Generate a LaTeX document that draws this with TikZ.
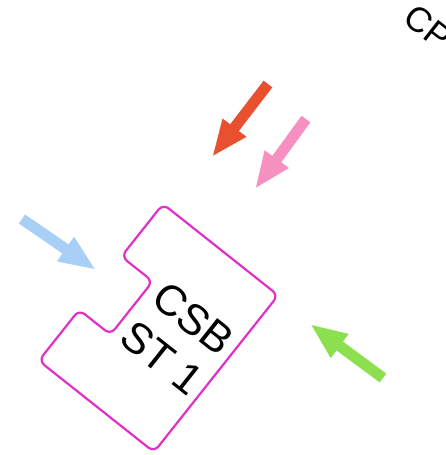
\documentclass[tikz,border=0pt]{standalone}
\usepackage{fontspec}
\setmainfont{Liberation Sans}
\usetikzlibrary{arrows.meta}
\definecolor{arrred}{HTML}{E9502F}
\definecolor{arrpink}{HTML}{F590C0}
\definecolor{arrblue}{HTML}{A8D0F6}
\definecolor{arrgreen}{HTML}{8CE050}
\definecolor{boxmag}{HTML}{E030C8}
\tikzset{
  flow/.style={line width=11pt, -{Triangle[length=37pt 0, width=27pt 0]}},
  csbbox/.style={draw=boxmag, line width=2.2pt, rounded corners=7pt},
}
\begin{document}
\begin{tikzpicture}[x=1pt,y=1pt]
\useasboundingbox (0,0) rectangle (445,-455);
\clip (0,0) rectangle (445,-455);
% arrows
\coordinate (redtail) at (268,-84);  \coordinate (redtip) at (212,-157);
\coordinate (pinktail) at (306,-119); \coordinate (pinktip) at (255,-189);
\coordinate (bluetail) at (22,-219);  \coordinate (bluetip) at (96,-270);
\coordinate (greentail) at (383,-378); \coordinate (greentip) at (310,-324);
\draw[flow, arrred] (redtail) -- (redtip);
\draw[flow, arrpink] (pinktail) -- (pinktip);
\draw[flow, arrblue] (bluetail) -- (bluetip);
\draw[flow, arrgreen] (greentail) -- (greentip);
% CSB ST 1 block
\begin{scope}[shift={(163,-204)}, rotate=-38.4]
\draw[csbbox] (0,0) -- (147,0) -- (147,-200) -- (0,-200) -- (0,-135) -- (40,-135) -- (40,-67) -- (0,-67) -- cycle;
\node[inner sep=0pt, align=center, rotate=-38.4, font=\fontsize{43}{50}\selectfont] (csb) at (95,-96) {CSB\\ST 1};
\end{scope}
% cut-off label at top right
\node[inner sep=0pt, anchor=west, rotate=-38, font=\fontsize{35}{40}\selectfont] (cp) at (409,-12) {CP};
\end{tikzpicture}
\end{document}
